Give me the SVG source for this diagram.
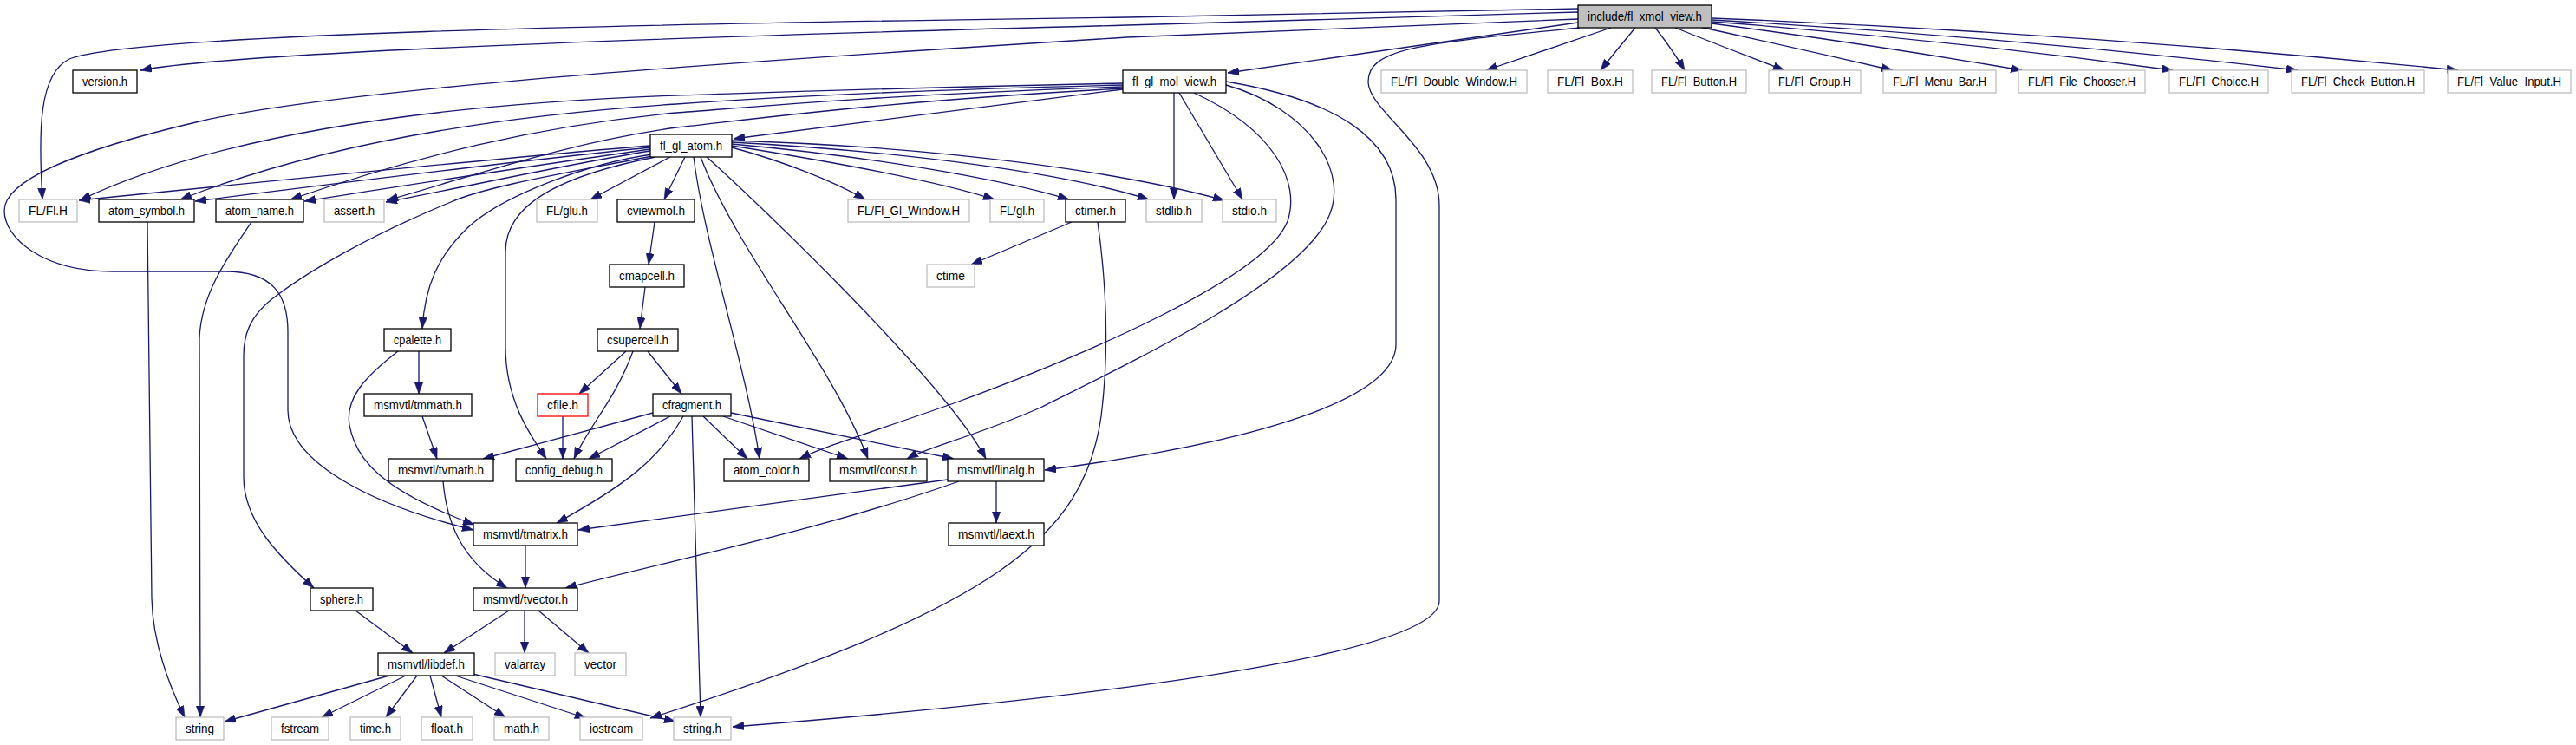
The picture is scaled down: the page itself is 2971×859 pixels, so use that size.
<svg xmlns="http://www.w3.org/2000/svg" width="2971" height="859" viewBox="0 0 2971 859">
<style>
.node rect{fill:#ffffff;stroke:#000000;stroke-width:1.3}
.ext rect{stroke:#bfbfbf}
.red rect{stroke:#ff0000}
.root rect{fill:#bfbfbf}
.node text{font-family:"Liberation Sans",Arial,sans-serif;font-size:15px;fill:#000000;text-anchor:middle}
#edges path{fill:none;stroke:#191970;stroke-width:1.3;marker-end:url(#ah)}
</style>
<defs>
<marker id="ah" viewBox="0 0 13 9.5" refX="13" refY="4.75" markerWidth="13" markerHeight="9.5" markerUnits="userSpaceOnUse" orient="auto">
<path d="M0,0 L13,4.75 L0,9.5 z" fill="#191970" stroke="#191970" stroke-width="0.5"/>
</marker>
</defs>
<rect width="2971" height="859" fill="#ffffff"/>
<g id="edges">
<path d="M1858,32 Q1790,55 1714,81"/>
<path d="M1886,32 Q1866,56 1846,81"/>
<path d="M1909,32 Q1928,56 1943,81"/>
<path d="M1932,32 Q1995,57 2058,81"/>
<path d="M1960,31 Q2070,55 2183,81"/>
<path d="M1974,27 Q2150,50 2332,81"/>
<path d="M1974,25 Q2240,45 2506,81"/>
<path d="M1974,23 Q2310,42 2650,81"/>
<path d="M1974,21 Q2400,38 2835,81"/>
<path d="M1820,26 L1416,84"/>
<path d="M1820,14 L1300,29 Q300,55 162,81"/>
<path d="M1820,10 L1300,20 C700,28 150,40 80,68 C45,85 44,150 49,230"/>
<path d="M1820,22 L1300,43 C900,68 400,100 230,140 C80,175 5,210 5,243 C5,275 50,313 130,313 L260,313 C315,313 332,340 332,383 L332,473 C332,530 420,580 546,611"/>
<path d="M1822,32 C1640,50 1577,55 1578,95 C1580,130 1660,170 1660,237 L1660,693 C1660,760 1200,810 845,838"/>
<path d="M1295,103 L846,160"/>
<path d="M1295,96 C1000,102 850,108 780,110 C450,122 230,165 92,231"/>
<path d="M1295,98 C1000,105 850,115 780,120 C550,135 360,170 208,230"/>
<path d="M1295,100 C1000,110 850,125 780,130 C620,145 480,180 335,230"/>
<path d="M1295,102 C1000,118 850,140 780,147 C650,165 540,205 446,231"/>
<path d="M1354,107 L1354,230"/>
<path d="M1360,107 L1433,230"/>
<path d="M1377,107 C1470,150 1500,210 1485,255 C1460,320 1250,410 1100,465 C1000,500 950,515 922,529"/>
<path d="M1414,98 C1510,125 1560,200 1530,255 C1490,330 1300,420 1200,470 C1120,505 1070,515 1046,529"/>
<path d="M1414,94 C1540,115 1610,160 1610,230 L1610,397 C1610,460 1450,510 1205,542"/>
<path d="M750,168 C600,180 250,215 91,231"/>
<path d="M750,170 C600,185 400,210 225,232"/>
<path d="M750,172 C620,190 480,212 351,232"/>
<path d="M750,174 C650,190 540,215 445,233"/>
<path d="M752,180 C650,200 560,215 520,233 C430,270 360,310 320,340 C285,365 281,390 281,410 L281,550 C281,600 320,640 362,678"/>
<path d="M752,178 C680,188 580,225 540,262 C505,295 490,330 487,379"/>
<path d="M756,181 C660,200 583,230 583,290 L583,400 C583,460 610,500 630,529"/>
<path d="M773,181 L681,230"/>
<path d="M790,181 L766,230"/>
<path d="M800,181 C812,280 860,420 876,529"/>
<path d="M808,181 C850,290 960,420 1001,529"/>
<path d="M815,181 C870,230 1090,440 1137,529"/>
<path d="M844,170 C900,185 960,208 998,230"/>
<path d="M844,168 C950,185 1080,208 1147,230"/>
<path d="M844,166 C1000,180 1150,205 1233,230"/>
<path d="M844,164 C1050,175 1230,200 1325,230"/>
<path d="M844,162 C1100,170 1300,200 1412,231"/>
<path d="M755,256 L748,305"/>
<path d="M744,331 L738,379"/>
<path d="M722,405 L668,454"/>
<path d="M730,405 C710,460 680,490 662,529"/>
<path d="M747,405 L786,454"/>
<path d="M649,480 L649,529"/>
<path d="M483,405 L483,454"/>
<path d="M459,405 C420,435 398,460 403,490 C410,530 440,565 547,605"/>
<path d="M487,480 L504,529"/>
<path d="M511,555 C515,600 530,645 585,678"/>
<path d="M753,476 L557,529"/>
<path d="M773,480 L679,529"/>
<path d="M788,480 C760,530 720,560 642,603"/>
<path d="M798,480 L808,827"/>
<path d="M811,480 L862,529"/>
<path d="M834,480 L978,529"/>
<path d="M843,476 L1100,529"/>
<path d="M1093,553 L667,611"/>
<path d="M1106,555 C950,610 800,640 652,678"/>
<path d="M1149,555 L1149,603"/>
<path d="M606,629 L606,678"/>
<path d="M410,704 L476,753"/>
<path d="M587,704 L512,753"/>
<path d="M605,704 L605,753"/>
<path d="M621,704 L679,753"/>
<path d="M449,779 L259,832"/>
<path d="M468,779 L371,827"/>
<path d="M481,779 L445,827"/>
<path d="M496,779 L509,827"/>
<path d="M509,779 L583,827"/>
<path d="M525,779 L676,828"/>
<path d="M545,777 L779,832"/>
<path d="M1236,256 L1120,305"/>
<path d="M1266,256 C1275,320 1280,400 1270,480 C1250,620 1150,700 750,828"/>
<path d="M170,256 L175,690 C176,740 195,790 213,827"/>
<path d="M290,256 C260,300 232,340 230,390 L231,827"/>
</g>
<g id="n_root" class="node root"><rect x="1820" y="6" width="154" height="26"/><text x="1897" y="24" textLength="132" lengthAdjust="spacingAndGlyphs">include/fl_xmol_view.h</text></g>
<g id="n_version" class="node"><rect x="84" y="81" width="74" height="26"/><text x="121" y="99" textLength="52" lengthAdjust="spacingAndGlyphs">version.h</text></g>
<g id="n_molview" class="node"><rect x="1295" y="81" width="119" height="26"/><text x="1354.5" y="99" textLength="97" lengthAdjust="spacingAndGlyphs">fl_gl_mol_view.h</text></g>
<g id="n_dblwin" class="node ext"><rect x="1593" y="81" width="168" height="26"/><text x="1677" y="99" textLength="146" lengthAdjust="spacingAndGlyphs">FL/Fl_Double_Window.H</text></g>
<g id="n_box" class="node ext"><rect x="1785" y="81" width="98" height="26"/><text x="1834" y="99" textLength="76" lengthAdjust="spacingAndGlyphs">FL/Fl_Box.H</text></g>
<g id="n_button" class="node ext"><rect x="1905" y="81" width="109" height="26"/><text x="1959.5" y="99" textLength="87" lengthAdjust="spacingAndGlyphs">FL/Fl_Button.H</text></g>
<g id="n_group" class="node ext"><rect x="2040" y="81" width="106" height="26"/><text x="2093" y="99" textLength="84" lengthAdjust="spacingAndGlyphs">FL/Fl_Group.H</text></g>
<g id="n_menubar" class="node ext"><rect x="2172" y="81" width="130" height="26"/><text x="2237" y="99" textLength="108" lengthAdjust="spacingAndGlyphs">FL/Fl_Menu_Bar.H</text></g>
<g id="n_filechooser" class="node ext"><rect x="2328" y="81" width="146" height="26"/><text x="2401" y="99" textLength="124" lengthAdjust="spacingAndGlyphs">FL/Fl_File_Chooser.H</text></g>
<g id="n_choice" class="node ext"><rect x="2502" y="81" width="114" height="26"/><text x="2559" y="99" textLength="92" lengthAdjust="spacingAndGlyphs">FL/Fl_Choice.H</text></g>
<g id="n_checkbutton" class="node ext"><rect x="2643" y="81" width="153" height="26"/><text x="2719.5" y="99" textLength="131" lengthAdjust="spacingAndGlyphs">FL/Fl_Check_Button.H</text></g>
<g id="n_valueinput" class="node ext"><rect x="2823" y="81" width="142" height="26"/><text x="2894" y="99" textLength="120" lengthAdjust="spacingAndGlyphs">FL/Fl_Value_Input.H</text></g>
<g id="n_glatom" class="node"><rect x="750" y="155" width="94" height="26"/><text x="797" y="173" textLength="72" lengthAdjust="spacingAndGlyphs">fl_gl_atom.h</text></g>
<g id="n_flh" class="node ext"><rect x="22" y="230" width="67" height="26"/><text x="55.5" y="248" textLength="45" lengthAdjust="spacingAndGlyphs">FL/Fl.H</text></g>
<g id="n_atomsymbol" class="node"><rect x="114" y="230" width="110" height="26"/><text x="169" y="248" textLength="88" lengthAdjust="spacingAndGlyphs">atom_symbol.h</text></g>
<g id="n_atomname" class="node"><rect x="249" y="230" width="101" height="26"/><text x="299.5" y="248" textLength="79" lengthAdjust="spacingAndGlyphs">atom_name.h</text></g>
<g id="n_assert" class="node ext"><rect x="374" y="230" width="69" height="26"/><text x="408.5" y="248" textLength="47" lengthAdjust="spacingAndGlyphs">assert.h</text></g>
<g id="n_glu" class="node ext"><rect x="619" y="230" width="70" height="26"/><text x="654" y="248" textLength="48" lengthAdjust="spacingAndGlyphs">FL/glu.h</text></g>
<g id="n_cviewmol" class="node"><rect x="712" y="230" width="89" height="26"/><text x="756.5" y="248" textLength="67" lengthAdjust="spacingAndGlyphs">cviewmol.h</text></g>
<g id="n_glwindow" class="node ext"><rect x="978" y="230" width="140" height="26"/><text x="1048" y="248" textLength="118" lengthAdjust="spacingAndGlyphs">FL/Fl_Gl_Window.H</text></g>
<g id="n_gl" class="node ext"><rect x="1142" y="230" width="62" height="26"/><text x="1173" y="248" textLength="40" lengthAdjust="spacingAndGlyphs">FL/gl.h</text></g>
<g id="n_ctimer" class="node"><rect x="1229" y="230" width="69" height="26"/><text x="1263.5" y="248" textLength="47" lengthAdjust="spacingAndGlyphs">ctimer.h</text></g>
<g id="n_stdlib" class="node ext"><rect x="1322" y="230" width="64" height="26"/><text x="1354" y="248" textLength="42" lengthAdjust="spacingAndGlyphs">stdlib.h</text></g>
<g id="n_stdio" class="node ext"><rect x="1410" y="230" width="62" height="26"/><text x="1441" y="248" textLength="40" lengthAdjust="spacingAndGlyphs">stdio.h</text></g>
<g id="n_cmapcell" class="node"><rect x="703" y="305" width="86" height="26"/><text x="746" y="323" textLength="64" lengthAdjust="spacingAndGlyphs">cmapcell.h</text></g>
<g id="n_ctime" class="node ext"><rect x="1069" y="305" width="55" height="26"/><text x="1096.5" y="323" textLength="33" lengthAdjust="spacingAndGlyphs">ctime</text></g>
<g id="n_cpalette" class="node"><rect x="443" y="379" width="77" height="26"/><text x="481.5" y="397" textLength="55" lengthAdjust="spacingAndGlyphs">cpalette.h</text></g>
<g id="n_csupercell" class="node"><rect x="689" y="379" width="93" height="26"/><text x="735.5" y="397" textLength="71" lengthAdjust="spacingAndGlyphs">csupercell.h</text></g>
<g id="n_tmmath" class="node"><rect x="420" y="454" width="124" height="26"/><text x="482" y="472" textLength="102" lengthAdjust="spacingAndGlyphs">msmvtl/tmmath.h</text></g>
<g id="n_cfile" class="node red"><rect x="620" y="454" width="58" height="26"/><text x="649" y="472" textLength="36" lengthAdjust="spacingAndGlyphs">cfile.h</text></g>
<g id="n_cfragment" class="node"><rect x="753" y="454" width="90" height="26"/><text x="798" y="472" textLength="68" lengthAdjust="spacingAndGlyphs">cfragment.h</text></g>
<g id="n_tvmath" class="node"><rect x="448" y="529" width="121" height="26"/><text x="508.5" y="547" textLength="99" lengthAdjust="spacingAndGlyphs">msmvtl/tvmath.h</text></g>
<g id="n_configdebug" class="node"><rect x="595" y="529" width="111" height="26"/><text x="650.5" y="547" textLength="89" lengthAdjust="spacingAndGlyphs">config_debug.h</text></g>
<g id="n_atomcolor" class="node"><rect x="835" y="529" width="98" height="26"/><text x="884" y="547" textLength="76" lengthAdjust="spacingAndGlyphs">atom_color.h</text></g>
<g id="n_const" class="node"><rect x="957" y="529" width="112" height="26"/><text x="1013" y="547" textLength="90" lengthAdjust="spacingAndGlyphs">msmvtl/const.h</text></g>
<g id="n_linalg" class="node"><rect x="1093" y="529" width="111" height="26"/><text x="1148.5" y="547" textLength="89" lengthAdjust="spacingAndGlyphs">msmvtl/linalg.h</text></g>
<g id="n_tmatrix" class="node"><rect x="546" y="603" width="120" height="26"/><text x="606" y="621" textLength="98" lengthAdjust="spacingAndGlyphs">msmvtl/tmatrix.h</text></g>
<g id="n_laext" class="node"><rect x="1094" y="603" width="110" height="26"/><text x="1149" y="621" textLength="88" lengthAdjust="spacingAndGlyphs">msmvtl/laext.h</text></g>
<g id="n_sphere" class="node"><rect x="358" y="678" width="72" height="26"/><text x="394" y="696" textLength="50" lengthAdjust="spacingAndGlyphs">sphere.h</text></g>
<g id="n_tvector" class="node"><rect x="546" y="678" width="120" height="26"/><text x="606" y="696" textLength="98" lengthAdjust="spacingAndGlyphs">msmvtl/tvector.h</text></g>
<g id="n_libdef" class="node"><rect x="436" y="753" width="111" height="26"/><text x="491.5" y="771" textLength="89" lengthAdjust="spacingAndGlyphs">msmvtl/libdef.h</text></g>
<g id="n_valarray" class="node ext"><rect x="571" y="753" width="69" height="26"/><text x="605.5" y="771" textLength="47" lengthAdjust="spacingAndGlyphs">valarray</text></g>
<g id="n_vector" class="node ext"><rect x="663" y="753" width="59" height="26"/><text x="692.5" y="771" textLength="37" lengthAdjust="spacingAndGlyphs">vector</text></g>
<g id="n_string" class="node ext"><rect x="203" y="827" width="55" height="26"/><text x="230.5" y="845" textLength="33" lengthAdjust="spacingAndGlyphs">string</text></g>
<g id="n_fstream" class="node ext"><rect x="313" y="827" width="66" height="26"/><text x="346" y="845" textLength="44" lengthAdjust="spacingAndGlyphs">fstream</text></g>
<g id="n_timeh" class="node ext"><rect x="404" y="827" width="58" height="26"/><text x="433" y="845" textLength="36" lengthAdjust="spacingAndGlyphs">time.h</text></g>
<g id="n_float" class="node ext"><rect x="486" y="827" width="59" height="26"/><text x="515.5" y="845" textLength="37" lengthAdjust="spacingAndGlyphs">float.h</text></g>
<g id="n_math" class="node ext"><rect x="570" y="827" width="63" height="26"/><text x="601.5" y="845" textLength="41" lengthAdjust="spacingAndGlyphs">math.h</text></g>
<g id="n_iostream" class="node ext"><rect x="669" y="827" width="72" height="26"/><text x="705" y="845" textLength="50" lengthAdjust="spacingAndGlyphs">iostream</text></g>
<g id="n_stringh" class="node ext"><rect x="777" y="827" width="66" height="26"/><text x="810" y="845" textLength="44" lengthAdjust="spacingAndGlyphs">string.h</text></g>
</svg>
